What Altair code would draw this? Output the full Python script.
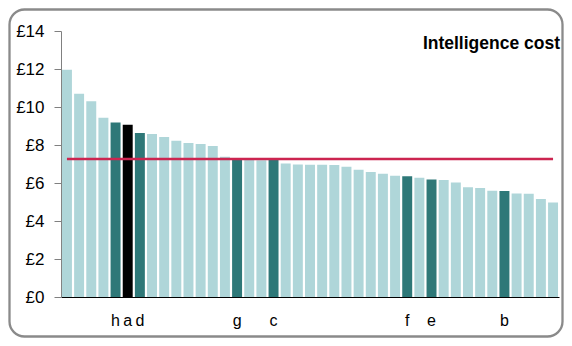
import altair as alt
import pandas as pd

values = [11.96, 10.70, 10.30, 9.44, 9.19, 9.07, 8.63, 8.58, 8.42, 8.23, 8.10,
          8.05, 7.95, 7.38, 7.32, 7.22, 7.20, 7.27, 7.02, 6.98, 6.96, 6.96,
          6.95, 6.86, 6.70, 6.58, 6.49, 6.38, 6.35, 6.28, 6.19, 6.16, 6.02,
          5.77, 5.74, 5.59, 5.58, 5.45, 5.44, 5.16, 4.98]
labels = ["", "", "", "", "h", "a", "d", "", "", "", "", "", "", "", "g", "", "",
          "c", "", "", "", "", "", "", "", "", "", "", "f", "", "e", "", "", "",
          "", "", "b", "", "", "", ""]
groups = ["other"] * 4 + ["peer", "self", "peer"] + ["other"] * 7 + ["peer"] + \
         ["other"] * 2 + ["peer"] + ["other"] * 10 + ["peer", "other", "peer"] + \
         ["other"] * 5 + ["peer"] + ["other"] * 4
y_ticks = [0, 2, 4, 6, 8, 10, 12, 14]
average = 7.26
title_text = "Intelligence cost"

df = pd.DataFrame({"idx": list(range(len(values))), "value": values,
                   "label": labels, "group": groups,
                   "avg": [average] * len(values)})

label_expr = "[" + ",".join("'" + l + "'" for l in labels) + "][datum.value]"

FONT = "Liberation Sans"

x_scale = alt.Scale(paddingInner=0.18, paddingOuter=0.08)
x_axis = alt.Axis(labelExpr=label_expr, labelAngle=0, ticks=False,
                  domainColor="#000000", domainWidth=1.2,
                  labelFont=FONT, labelFontSize=16, labelColor="#000000",
                  labelPadding=15, labelOverlap=False)
y_scale = alt.Scale(domain=[0, 14], nice=False, zero=True)
y_axis = alt.Axis(values=y_ticks, tickCount=8,
                  labelExpr="'£' + datum.value", grid=False,
                  domainColor="#808080", tickColor="#808080",
                  tickSize=7, labelFont=FONT, labelFontSize=17,
                  labelColor="#000000", labelPadding=10,
                  labelOverlap=False, labelFlush=False)

bars = alt.Chart(df).mark_bar().encode(
    x=alt.X("idx:O", title=None, scale=x_scale, axis=x_axis),
    y=alt.Y("value:Q", title=None, scale=y_scale, axis=y_axis),
    color=alt.Color("group:N",
                    scale=alt.Scale(domain=["other", "peer", "self"],
                                    range=["#afd6d9", "#2e7878", "#000000"]),
                    legend=None),
)

line = alt.Chart(df).mark_line(color="#cc2550", strokeWidth=2.5).encode(
    x=alt.X("idx:O", title=None, scale=x_scale, axis=x_axis),
    y=alt.Y("avg:Q", title=None, scale=y_scale, axis=y_axis),
)

title = alt.Chart(pd.DataFrame({"t": [title_text]})).mark_text(
    align="right", baseline="alphabetic", font=FONT, fontSize=17.5,
    fontWeight="bold", color="#000000"
).encode(x=alt.value(499), y=alt.value(18), text="t:N")

border = alt.Chart(pd.DataFrame({"a": [0]})).mark_rect(
    fillOpacity=0, stroke="#8a8a8a", strokeWidth=2.3, cornerRadius=15
).encode(x=alt.value(-51.5), x2=alt.value(501.5), y=alt.value(-21.5),
         y2=alt.value(305.5))

chart = alt.layer(bars, line, title, border).properties(
    width=498, height=266,
    padding={"left": 53, "top": 23, "right": 5, "bottom": 41},
    autosize=alt.AutoSizeParams(type="none"),
).configure_view(stroke=None)

chart.save("out.html", embed_options={"renderer": "svg", "actions": False})
